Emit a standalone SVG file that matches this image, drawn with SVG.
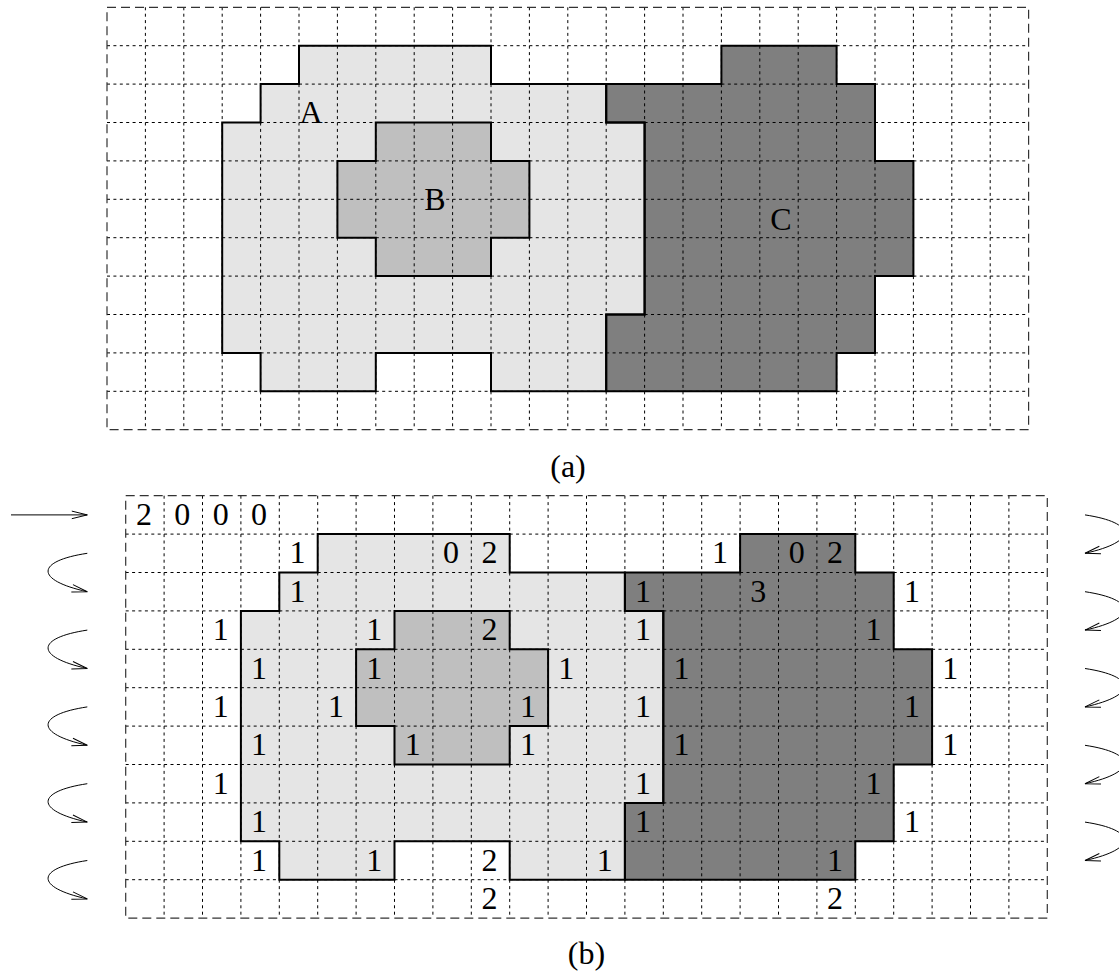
<svg xmlns="http://www.w3.org/2000/svg" xmlns:xlink="http://www.w3.org/1999/xlink" width="1119" height="978" viewBox="0 0 1119 978">
<style>
.fa{fill:#e5e5e5;stroke:none}
.fb{fill:#bfbfbf;stroke:none}
.fc{fill:#7f7f7f;stroke:none}
.ol{fill:none;stroke:#000;stroke-width:2}
.grid{fill:none;stroke:#000;stroke-width:1;stroke-dasharray:3 3.4}
.border{fill:none;stroke:#333;stroke-width:1.2;stroke-dasharray:9 5}
text{font-family:"Liberation Serif","Times New Roman",serif;font-size:32px;text-anchor:middle;fill:#000}
.arr{fill:none;stroke:#000;stroke-width:1;marker-end:url(#ah)}
</style>
<defs>
<marker id="ah" markerUnits="userSpaceOnUse" markerWidth="18" markerHeight="10" viewBox="0 0 18 10" refX="16" refY="5" orient="auto"><path d="M0.5,1.2 L16,5 L0.5,8.8" fill="none" stroke="#000" stroke-width="1"/></marker>
<polygon id="pA" points="192,38.4 384,38.4 384,76.8 499.2,76.8 499.2,115.2 537.6,115.2 537.6,307.2 499.2,307.2 499.2,384 384,384 384,345.6 268.8,345.6 268.8,384 153.6,384 153.6,345.6 115.2,345.6 115.2,115.2 153.6,115.2 153.6,76.8 192,76.8"/>
<polygon id="pB" points="268.8,115.2 384,115.2 384,153.6 422.4,153.6 422.4,230.4 384,230.4 384,268.8 268.8,268.8 268.8,230.4 230.4,230.4 230.4,153.6 268.8,153.6"/>
<polygon id="pC" points="499.2,76.8 614.4,76.8 614.4,38.4 729.6,38.4 729.6,76.8 768,76.8 768,153.6 806.4,153.6 806.4,268.8 768,268.8 768,345.6 729.6,345.6 729.6,384 499.2,384 499.2,307.2 537.6,307.2 537.6,115.2 499.2,115.2"/>
<g id="panel">
<use xlink:href="#pA" class="fa"/>
<use xlink:href="#pB" class="fb"/>
<use xlink:href="#pC" class="fc"/>
<path class="grid" d="M38.4,0V422.4M76.8,0V422.4M115.2,0V422.4M153.6,0V422.4M192,0V422.4M230.4,0V422.4M268.8,0V422.4M307.2,0V422.4M345.6,0V422.4M384,0V422.4M422.4,0V422.4M460.8,0V422.4M499.2,0V422.4M537.6,0V422.4M576,0V422.4M614.4,0V422.4M652.8,0V422.4M691.2,0V422.4M729.6,0V422.4M768,0V422.4M806.4,0V422.4M844.8,0V422.4M883.2,0V422.4M0,38.4H921.6M0,76.8H921.6M0,115.2H921.6M0,153.6H921.6M0,192H921.6M0,230.4H921.6M0,268.8H921.6M0,307.2H921.6M0,345.6H921.6M0,384H921.6"/>
<rect class="border" x="0" y="0" width="921.6" height="422.4"/>
<use xlink:href="#pA" class="ol"/>
<use xlink:href="#pB" class="ol"/>
<use xlink:href="#pC" class="ol"/>
</g>
</defs>

<g id="panel-a">
<use xlink:href="#panel" transform="translate(107,7.3)"/>
<g id="label-A"><text x="311" y="123">A</text></g>
<g id="label-B"><text x="435" y="210">B</text></g>
<g id="label-C"><text x="781" y="230">C</text></g>
<text x="568" y="477">(a)</text>
</g>

<g id="panel-b">
<use xlink:href="#panel" transform="translate(125.7,495.7)"/>
<g id="counts" transform="translate(125.7,495.7)">
<text x="18.2" y="29.4">2</text><text x="56.6" y="29.4">0</text><text x="95" y="29.4">0</text><text x="133.4" y="29.4">0</text>
<text x="171.8" y="67.8">1</text><text x="325.4" y="67.8">0</text><text x="363.8" y="67.8">2</text><text x="594.2" y="67.8">1</text><text x="671" y="67.8">0</text><text x="709.4" y="67.8">2</text>
<text x="171.8" y="106.2">1</text><text x="517.4" y="106.2">1</text><text x="632.6" y="106.2">3</text><text x="786.2" y="106.2">1</text>
<text x="95" y="144.6">1</text><text x="248.6" y="144.6">1</text><text x="363.8" y="144.6">2</text><text x="517.4" y="144.6">1</text><text x="747.8" y="144.6">1</text>
<text x="133.4" y="183">1</text><text x="248.6" y="183">1</text><text x="440.6" y="183">1</text><text x="555.8" y="183">1</text><text x="824.6" y="183">1</text>
<text x="95" y="221.4">1</text><text x="210.2" y="221.4">1</text><text x="402.2" y="221.4">1</text><text x="517.4" y="221.4">1</text><text x="786.2" y="221.4">1</text>
<text x="133.4" y="259.8">1</text><text x="287" y="259.8">1</text><text x="402.2" y="259.8">1</text><text x="555.8" y="259.8">1</text><text x="824.6" y="259.8">1</text>
<text x="95" y="298.2">1</text><text x="517.4" y="298.2">1</text><text x="747.8" y="298.2">1</text>
<text x="133.4" y="336.6">1</text><text x="517.4" y="336.6">1</text><text x="786.2" y="336.6">1</text>
<text x="133.4" y="375">1</text><text x="248.6" y="375">1</text><text x="363.8" y="375">2</text><text x="479" y="375">1</text><text x="709.4" y="375">1</text>
<text x="363.8" y="413.4">2</text><text x="709.4" y="413.4">2</text>
</g>
<text x="586.5" y="964">(b)</text>
</g>

<g id="connectors">
<path class="arr" d="M11,514.9H87.3"/>
<path class="arr" d="M87.3,553.3C36,561 34,580 87.3,591.7"/>
<path class="arr" d="M87.3,630.1C36,637.8 34,656.8 87.3,668.5"/>
<path class="arr" d="M87.3,706.9C36,714.6 34,733.6 87.3,745.3"/>
<path class="arr" d="M87.3,783.7C36,791.4 34,810.4 87.3,822.1"/>
<path class="arr" d="M87.3,860.5C36,868.2 34,887.2 87.3,898.9"/>
<path class="arr" d="M1085,514.9C1136.3,522.6 1138.3,541.6 1085,553.3"/>
<path class="arr" d="M1085,591.7C1136.3,599.4 1138.3,618.4 1085,630.1"/>
<path class="arr" d="M1085,668.5C1136.3,676.2 1138.3,695.2 1085,706.9"/>
<path class="arr" d="M1085,745.3C1136.3,753 1138.3,772 1085,783.7"/>
<path class="arr" d="M1085,822.1C1136.3,829.8 1138.3,848.8 1085,860.5"/>
</g>
</svg>
